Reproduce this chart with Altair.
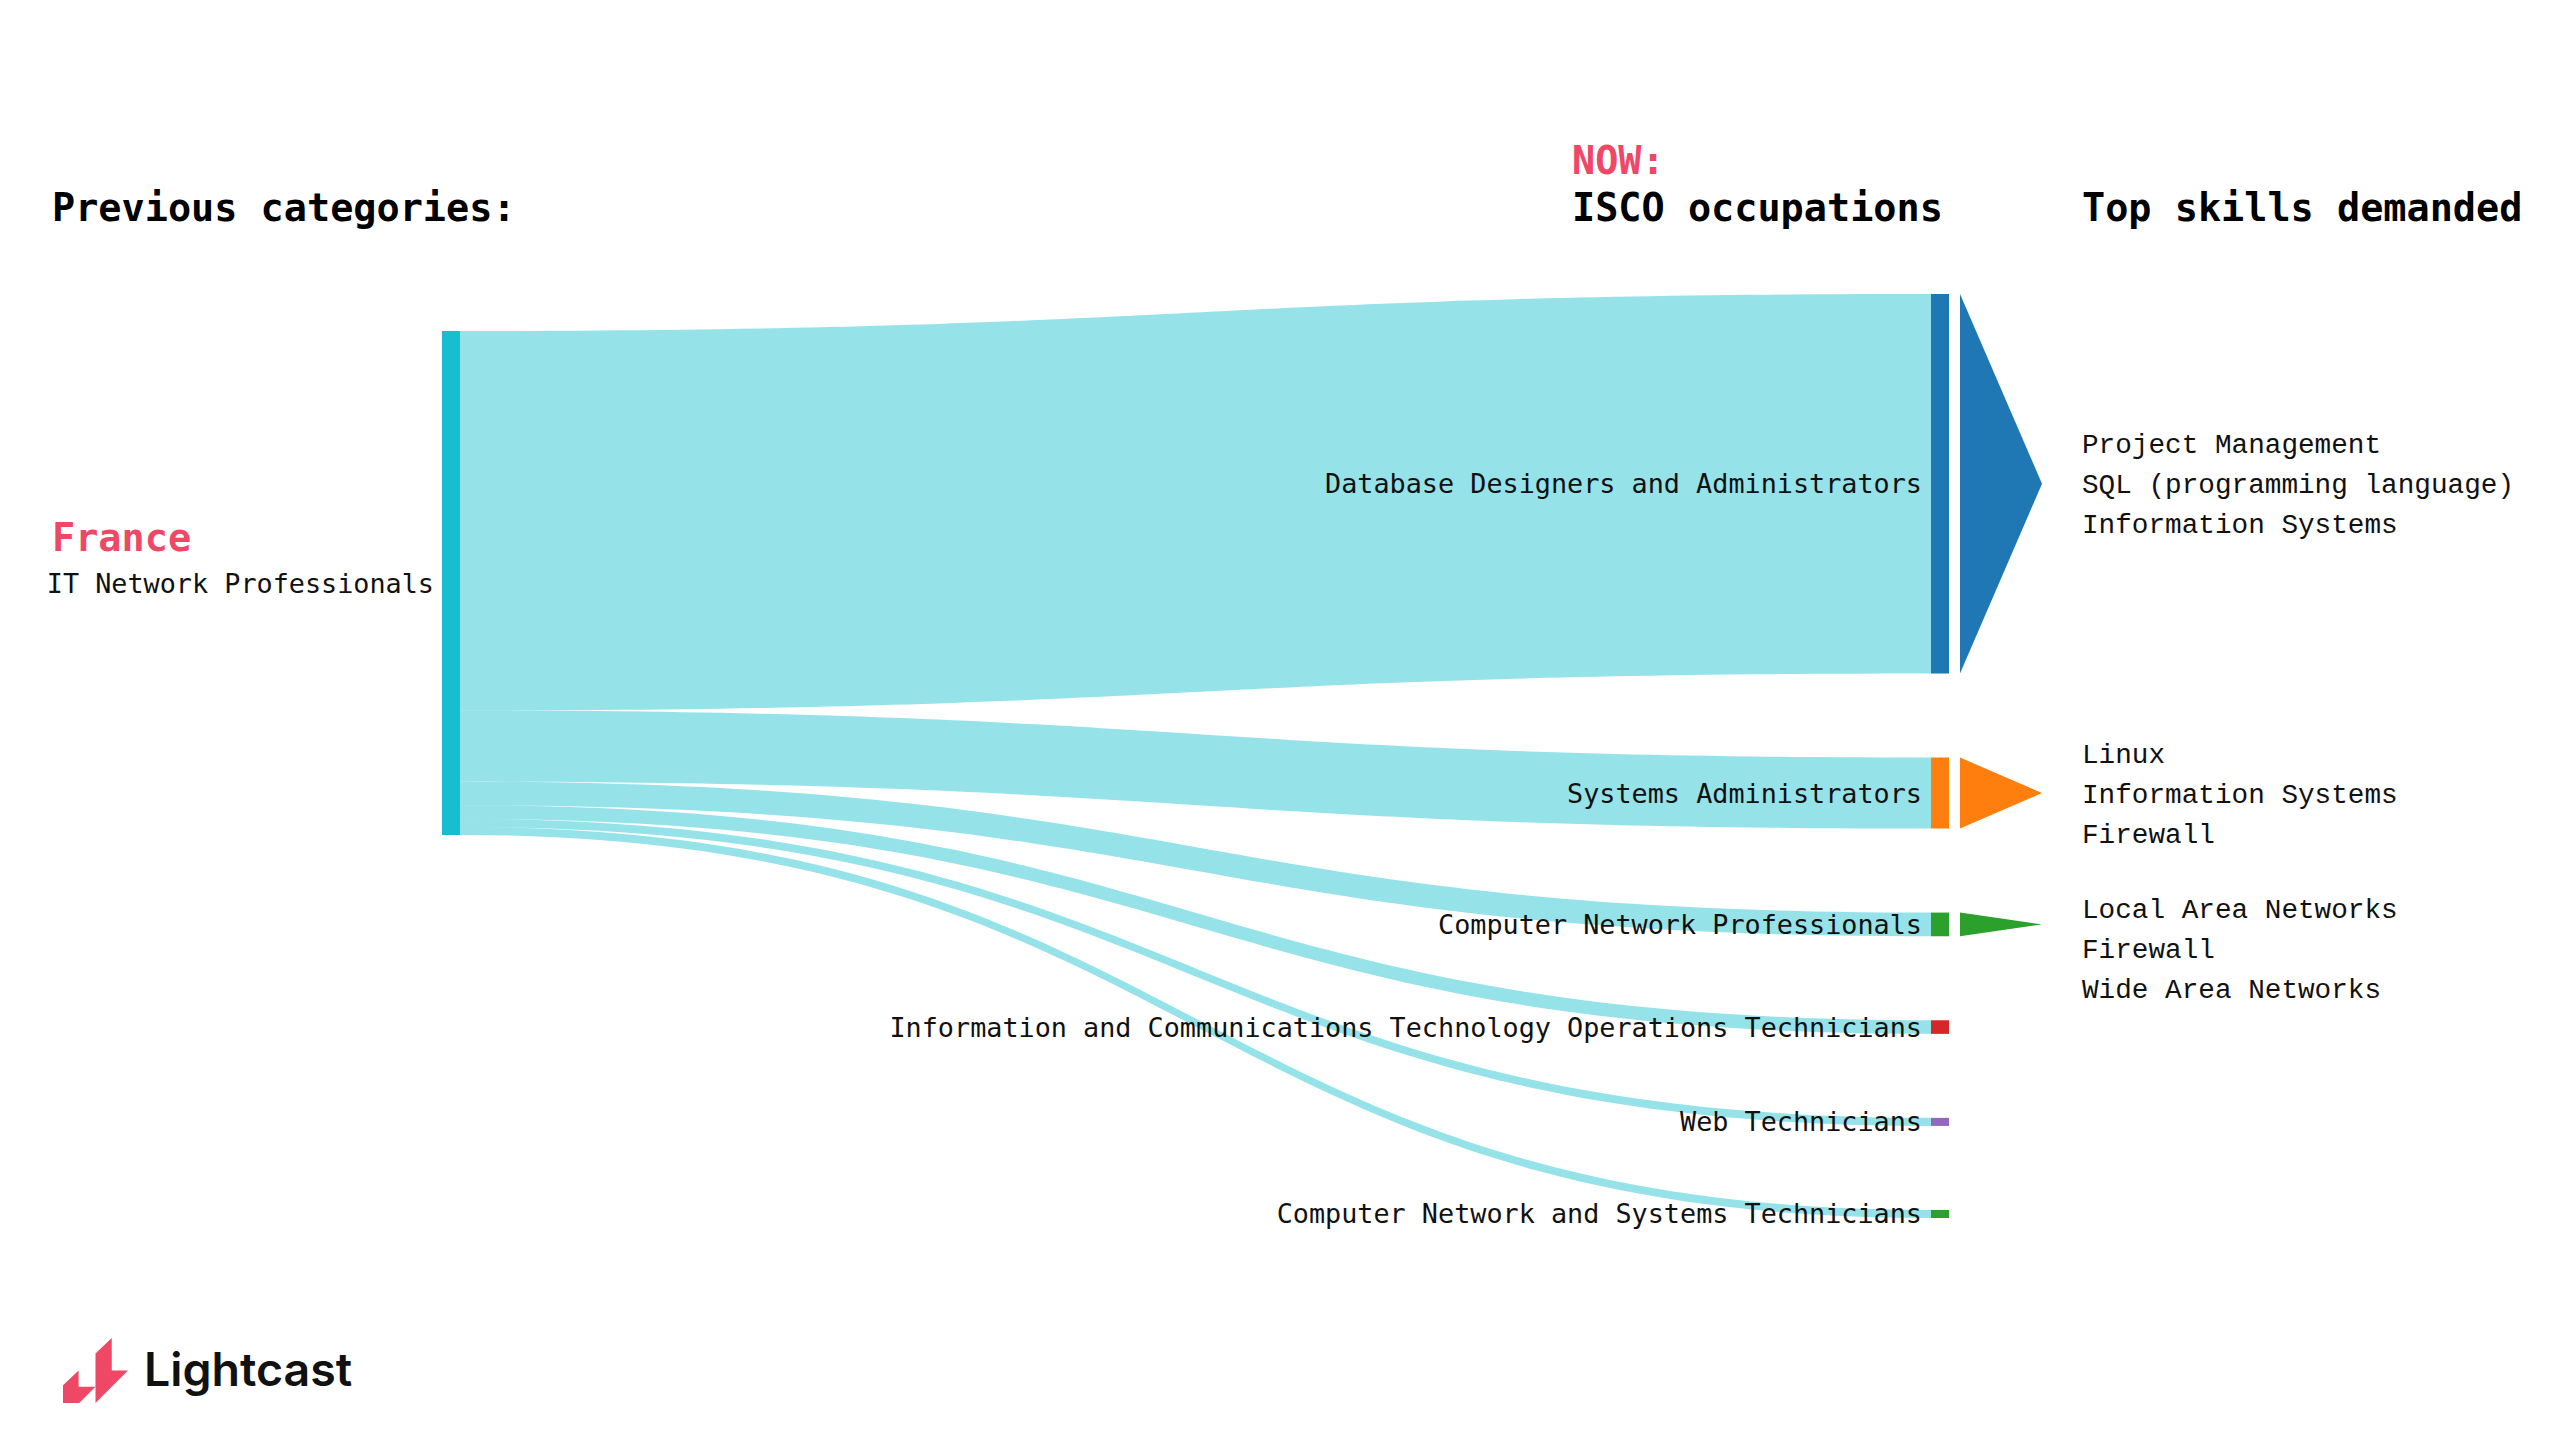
import altair as alt
import numpy as np
import pandas as pd

# ---------------- data ----------------
source_country = "France"
source_node = "IT Network Professionals"
target_nodes = [
    "Database Designers and Administrators",
    "Systems Administrators",
    "Computer Network Professionals",
    "Information and Communications Technology Operations Technicians",
    "Web Technicians",
    "Computer Network and Systems Technicians",
]
flow_share = [75.3, 14.1, 4.7, 2.7, 1.6, 1.6]  # % of source postings
target_colors = ["#1f77b4", "#ff7f0e", "#2ca02c", "#d62728", "#9467bd", "#2ca02c"]
skill_targets = target_nodes[:3]
top_skills = [
    ["Project Management", "SQL (programming language)", "Information Systems"],
    ["Linux", "Information Systems", "Firewall"],
    ["Local Area Networks", "Firewall", "Wide Area Networks"],
]
header_left = "Previous categories:"
header_now = "NOW:"
header_mid = "ISCO occupations"
header_right = "Top skills demanded"
brand = "Lightcast"

# ---------------- layout constants ----------------
W, H = 2544, 1424
PX_PER_UNIT = 5.04
YMAX = H / PX_PER_UNIT
LEFT_X0, NODE_W = 434, 18
RIGHT_X0 = 1923
ARROW_X0, ARROW_X1 = 1952, 2034
SKILL_X = 2074
RIGHT_TOP = 286 / PX_PER_UNIT
LEFT_TOP = 323 / PX_PER_UNIT
NODE_GAP = 84 / PX_PER_UNIT
LINE_GAP = 40 / PX_PER_UNIT
BLOCK_GAP = 155 / PX_PER_UNIT

RED = "#EF4766"
LINK = "#17becf"
MONO = "DejaVu Sans Mono"
LBL = 26.8

# ---------------- sankey layout ----------------
nodes_rows, link_rows, label_rows = [], [], []
ly = LEFT_TOP
ry = RIGHT_TOP
xa, xb = LEFT_X0 + NODE_W, RIGHT_X0
xm = (xa + xb) / 2
ts = np.linspace(0, 1, 90)
right_pos = {}
for name, v, col in zip(target_nodes, flow_share, target_colors):
    l0, l1 = ly, ly + v
    r0, r1 = ry, ry + v
    right_pos[name] = (r0, r1)
    for t in ts:
        a, b, c, d = (1 - t) ** 3, 3 * (1 - t) ** 2 * t, 3 * (1 - t) * t ** 2, t ** 3
        x = a * xa + (b + c) * xm + d * xb
        link_rows.append({"link": name, "x": x,
                          "y": (a + b) * l0 + (c + d) * r0,
                          "y2": (a + b) * l1 + (c + d) * r1})
    nodes_rows.append({"node": name, "x": RIGHT_X0, "x2": RIGHT_X0 + NODE_W, "y": r0, "y2": r1})
    label_rows.append({"label": name, "x": RIGHT_X0 - 9, "y": (r0 + r1) / 2})
    ly = l1
    ry = r1 + NODE_GAP
nodes_rows.append({"node": source_node, "x": LEFT_X0, "x2": LEFT_X0 + NODE_W, "y": LEFT_TOP, "y2": ly})

links = pd.DataFrame(link_rows)
nodes = pd.DataFrame(nodes_rows)
labels = pd.DataFrame(label_rows)

arrow_rows, skill_rows = [], []
prev_c = -1e9
for name, skills in zip(skill_targets, top_skills):
    r0, r1 = right_pos[name]
    tip = (r0 + r1) / 2
    arrow_rows.append({"arrow": name, "x": ARROW_X0, "y": r0, "y2": r1})
    arrow_rows.append({"arrow": name, "x": ARROW_X1, "y": tip, "y2": tip})
    c = max(tip, prev_c + BLOCK_GAP)
    prev_c = c
    for i, s in enumerate(skills):
        skill_rows.append({"skill": s, "x": SKILL_X, "y": c + (i - 1) * LINE_GAP})
arrows = pd.DataFrame(arrow_rows)
skills_df = pd.DataFrame(skill_rows)

xs = alt.Scale(domain=[0, W])
ys = alt.Scale(domain=[0, YMAX], reverse=True)
X = lambda f: alt.X(f, type="quantitative", scale=xs, axis=None)
Y = lambda f: alt.Y(f, type="quantitative", scale=ys, axis=None)

node_color = alt.Color("node:N", scale=alt.Scale(domain=target_nodes + [source_node],
                                                 range=target_colors + ["#17becf"]), legend=None)
arrow_color = alt.Color("arrow:N", scale=alt.Scale(domain=skill_targets, range=target_colors[:3]), legend=None)

link_layer = alt.Chart(links).mark_area(interpolate="linear").encode(
    x=X("x"), y=Y("y"), y2="y2", detail="link:N",
    color=alt.value(LINK), opacity=alt.value(0.45))
node_layer = alt.Chart(nodes).mark_rect().encode(x=X("x"), x2="x2", y=Y("y"), y2="y2", color=node_color)
arrow_layer = alt.Chart(arrows).mark_area(interpolate="linear").encode(
    x=X("x"), y=Y("y"), y2="y2", detail="arrow:N", color=arrow_color)
label_layer = alt.Chart(labels).mark_text(align="right", baseline="middle", font=MONO, dy=1.5,
                                          fontSize=LBL, color="#111").encode(x=X("x"), y=Y("y"), text="label:N")
skill_layer = alt.Chart(skills_df).mark_text(align="left", baseline="middle", font="Liberation Mono", dy=1.5,
                                             fontSize=27.7, color="#111").encode(x=X("x"), y=Y("y"), text="skill:N")


def txt(s, x, y, **kw):
    return alt.Chart(pd.DataFrame({"t": [s]})).mark_text(baseline="middle", **kw).encode(
        x=alt.value(x), y=alt.value(y), text="t:N")


head = [
    txt(header_left, 44, 200.5, align="left", font=MONO, fontWeight="bold", fontSize=38.5, color="#000"),
    txt(header_now, 1564, 153.5, align="left", font=MONO, fontWeight="bold", fontSize=38.5, color=RED),
    txt(header_mid, 1564, 200.5, align="left", font=MONO, fontWeight="bold", fontSize=38.5, color="#000"),
    txt(header_right, 2074, 200.5, align="left", font=MONO, fontWeight="bold", fontSize=38.5, color="#000"),
    txt(source_country, 44, 530.5, align="left", font=MONO, fontWeight="bold", fontSize=38.5, color=RED),
    txt(source_node, LEFT_X0 - 8, 577, align="right", font=MONO, fontSize=LBL, color="#111"),
    txt(brand, 136, 1364, align="left", font="Inter", fontWeight=600, fontSize=46.5, color="#111"),
]

logo_path = ("M-1,0.45L-0.52,0L-0.52,0.5L0,0.5L-0.5,1L-1,1Z"
             "M0,-0.52L0.5,-1L0.5,0L1,0L0,1Z")
logo = alt.Chart(pd.DataFrame({"k": [1]})).mark_point(
    shape=logo_path, filled=True, size=4225, color=RED, opacity=1, strokeWidth=0).encode(
    x=alt.value(87.5), y=alt.value(1362.5))

chart = alt.layer(link_layer, node_layer, arrow_layer, label_layer, skill_layer, *head, logo).properties(
    width=W, height=H, padding=0, autosize="none", background="white"
).configure_view(stroke=None)

chart.save("out.html", embed_options={"renderer": "svg", "actions": False})
